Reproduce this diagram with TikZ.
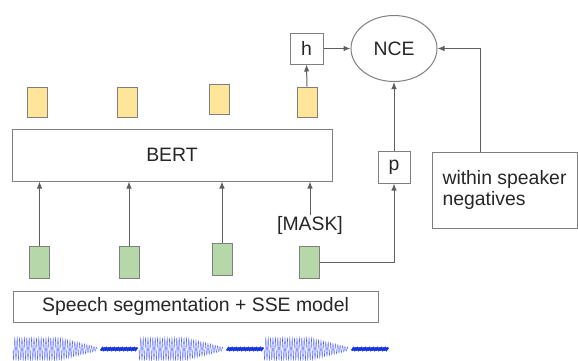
\documentclass[tikz,border=0pt]{standalone}
\usepackage{fontspec}
\setmainfont{Liberation Sans}
\usetikzlibrary{arrows.meta,shapes.geometric}

\definecolor{boxline}{HTML}{7F7F7F}
\definecolor{arrline}{HTML}{5F5F5F}
\definecolor{outyellow}{HTML}{FFE599}
\definecolor{ingreen}{HTML}{B6D7A8}
\definecolor{wavecol}{HTML}{5566FF}
\definecolor{wavedark}{HTML}{1535E0}

\tikzset{
  box/.style={draw=boxline, line width=1pt, inner sep=0pt, text=black!85,
    font=\fontsize{19.4}{21.5}\selectfont},
  outvec/.style={box, fill=outyellow, minimum width=20pt, minimum height=30pt},
  invec/.style={box, fill=ingreen, minimum width=20pt, minimum height=32pt},
  arr/.style={draw=arrline, line width=1pt, -{Latex[length=7pt,width=5.5pt]}},
  wave/.style={draw=wavecol, line width=0.35pt}
}

% one piece of the waveform, #1 = left end
\newcommand\wavechunk[1]{%
  \draw[wave] plot[domain=0:84, samples=340]
    ({#1+\x}, {349+11.5*min(1,(91-\x)/44)*sin(mod(\x,2.4)*150)});
  \draw[wavedark, line width=2.2pt] plot[domain=88:124, samples=100]
    ({#1+\x}, {349+0.8*sin(mod(\x,2)*180)});
}

\begin{document}
\begin{tikzpicture}[x=1pt, y=-1pt]
        \useasboundingbox (0,0) rectangle (578,360);

        \node[box, minimum width=320pt, minimum height=52pt] (bert) at (172,155) {BERT};
        \node[box, minimum width=365pt, minimum height=31pt] (sse) at (195.5,306.5) {Speech segmentation + SSE model};

        \node[outvec] (y1) at (37,102) {};
        \node[outvec] (y2) at (127,102) {};
        \node[outvec] (y3) at (219,99) {};
        \node[outvec] (y4) at (307,102) {};

        \node[invec] (g1) at (39.5,262) {};
        \node[invec] (g2) at (129,262) {};
        \node[invec] (g3) at (222,259) {};
        \node[invec] (g4) at (309.5,262) {};
        \node[box, draw=none] (mask) at (310,225) {[MASK]};

        \node[box, minimum width=33pt, minimum height=31pt] (h) at (306.5,48.5) {h};
        \node[box, ellipse, minimum width=86pt, minimum height=66pt] (nce) at (394,48.5) {NCE};
        \node[box, minimum width=32pt, minimum height=32pt] (p) at (394,167) {p};
        \node[box, minimum width=145pt, minimum height=76pt, align=left] (neg) at (504.5,190)
          {within speaker\\negatives};
        \coordinate (negtop) at (480,152);

        % inputs into BERT
        \draw[arr] (g1.north) -- (g1.north |- bert.south);
        \draw[arr] (g2.north) -- (g2.north |- bert.south);
        \draw[arr] (g3.north) -- (g3.north |- bert.south);
        \draw[arr] (mask.north) -- (mask.north |- bert.south);

        % contrastive part
        \draw[arr] (y4.north) -- (h.south);
        \draw[arr] (h.east) -- (nce.west);
        \draw[arr] (g4.east) -| (p.south);
        \draw[arr] (p.north) -- (nce.south);
        \draw[arr] (negtop) |- (nce.east);

        % speech signal
        \wavechunk{13}
        \wavechunk{139}
        \wavechunk{264}
\end{tikzpicture}
\end{document}
